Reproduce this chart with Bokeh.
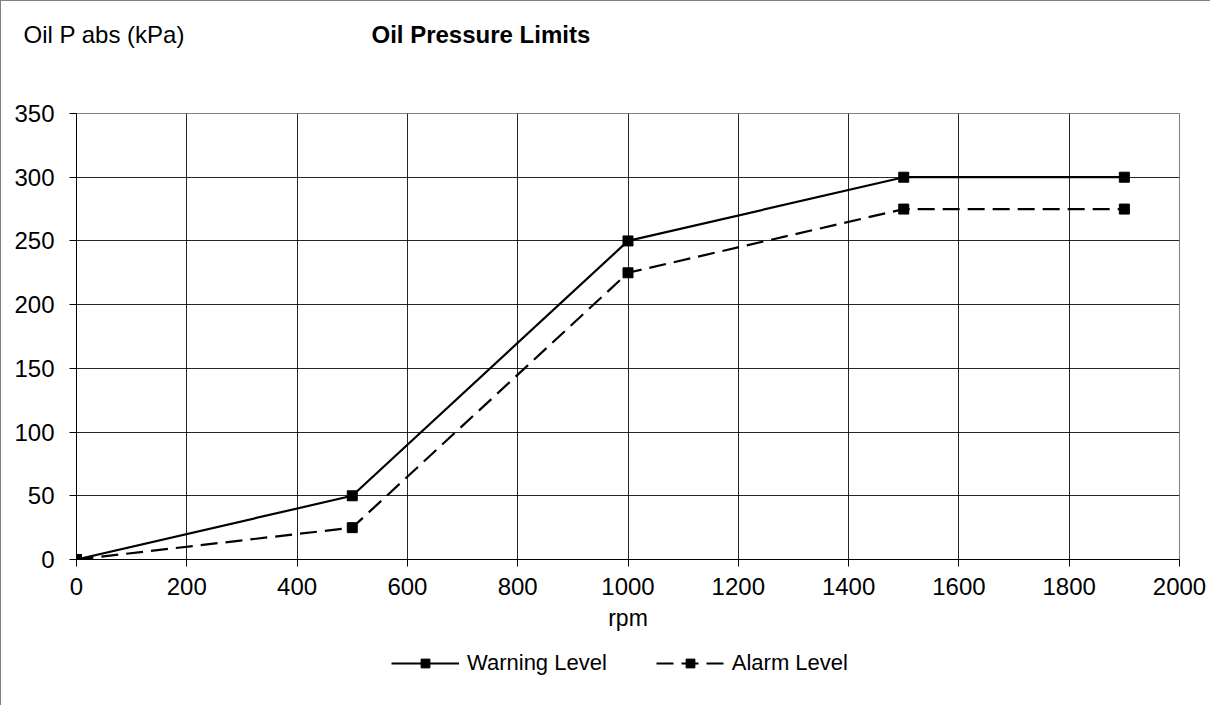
from bokeh.plotting import figure
from bokeh.layouts import column
from bokeh.models import Label, Legend, LegendItem, Range1d, FixedTicker
from bokeh.embed import file_html
from bokeh.resources import INLINE

rpm = [0, 500, 1000, 1500, 1900]
warning = [0, 50, 250, 300, 300]
alarm = [0, 25, 225, 275, 275]
x_ticks = [0, 200, 400, 600, 800, 1000, 1200, 1400, 1600, 1800, 2000]
y_ticks = [0, 50, 100, 150, 200, 250, 300, 350]
y_label = "Oil P abs  (kPa)"
title = "Oil Pressure Limits"
x_label = "rpm"
series_names = ["Warning Level", "Alarm Level"]

FONT = "Liberation Sans"
W = 1210
BORDER = {"border-left": "1px solid #808080"}

# ---- header (title texts) ----
head = figure(width=W, height=95, output_backend="svg", toolbar_location=None,
              x_axis_type=None, y_axis_type=None, x_range=Range1d(0, 1), y_range=Range1d(0, 1),
              min_border=0, min_border_left=0, min_border_right=0, min_border_top=0, min_border_bottom=0)
head.frame_align = False
head.outline_line_color = None
head.grid.visible = False
head.styles = {"border-left": "1px solid #808080", "border-top": "1px solid #808080"}
head.add_layout(Label(x=22, y=62, x_units="screen", y_units="screen", text=y_label,
                      text_font=FONT, text_font_size="24px", text_baseline="middle",
                      text_color="black"))
head.add_layout(Label(x=370, y=62, x_units="screen", y_units="screen", text=title,
                      text_font=FONT, text_font_size="24px", text_font_style="bold",
                      text_baseline="middle", text_color="black"))

# ---- main plot ----
p = figure(width=W, height=545, output_backend="svg", toolbar_location=None,
           x_range=Range1d(0, 2000), y_range=Range1d(0, 350),
           min_border_left=75, min_border_right=32, min_border_top=18, min_border_bottom=81)
p.frame_align = False
p.styles = dict(BORDER)
p.background_fill_color = "white"
p.border_fill_color = "white"
p.outline_line_color = "#808080"
p.outline_line_width = 1

for ax in (p.xaxis[0], p.yaxis[0]):
    ax.axis_line_color = "black"
    ax.major_tick_line_color = "black"
    ax.minor_tick_line_color = None
    ax.major_tick_in = 0
    ax.major_tick_out = 7
    ax.major_label_text_font = FONT
    ax.major_label_text_font_size = "24px"
    ax.major_label_text_color = "black"

p.xaxis.ticker = FixedTicker(ticks=x_ticks)
p.yaxis.ticker = FixedTicker(ticks=y_ticks)
p.xaxis.major_label_standoff = 11
p.yaxis.major_label_standoff = 15
p.xaxis.axis_label = x_label
p.xaxis.axis_label_text_font = FONT
p.xaxis.axis_label_text_font_size = "23px"
p.xaxis.axis_label_text_font_style = "normal"
p.xaxis.axis_label_text_color = "black"
p.xaxis.axis_label_standoff = 7

p.xgrid.ticker = FixedTicker(ticks=x_ticks)
p.ygrid.ticker = FixedTicker(ticks=y_ticks)
p.xgrid.grid_line_color = "black"
p.ygrid.grid_line_color = "black"
p.xgrid.grid_line_alpha = 0.85
p.ygrid.grid_line_alpha = 0.85

DASH = "17 8"
p.line(rpm, warning, line_color="black", line_width=2.2)
p.scatter(rpm, warning, marker="square", size=10, fill_color="black", line_color="black")
p.line(rpm, alarm, line_color="black", line_width=2.2, line_dash=DASH)
p.scatter(rpm, alarm, marker="square", size=10, fill_color="black", line_color="black")

# ---- legend strip ----
leg = figure(width=W, height=65, output_backend="svg", toolbar_location=None,
             x_axis_type=None, y_axis_type=None, x_range=Range1d(-20, -10), y_range=Range1d(-20, -10),
             min_border=0, min_border_left=0, min_border_right=0, min_border_top=0, min_border_bottom=0)
leg.frame_align = False
leg.outline_line_color = None
leg.grid.visible = False
leg.styles = dict(BORDER)
lw = leg.line(rpm, warning, line_color="black", line_width=2.2)
sw = leg.scatter(rpm, warning, marker="square", size=10, fill_color="black", line_color="black")
la = leg.line(rpm, alarm, line_color="black", line_width=2.2, line_dash=DASH)
sa = leg.scatter(rpm, alarm, marker="square", size=10, fill_color="black", line_color="black")
legend = Legend(items=[LegendItem(label=series_names[0], renderers=[lw, sw]),
                       LegendItem(label=series_names[1], renderers=[la, sa])],
                orientation="horizontal", location=(390, 29),
                glyph_width=68, glyph_height=22, label_standoff=8, spacing=49,
                label_text_font=FONT, label_text_font_size="22px", label_text_color="black",
                border_line_color=None, background_fill_alpha=0, padding=0, margin=0)
leg.add_layout(legend, "center")

layout = column(head, p, leg, spacing=0)
open("out.html", "w").write(file_html(layout, INLINE))
